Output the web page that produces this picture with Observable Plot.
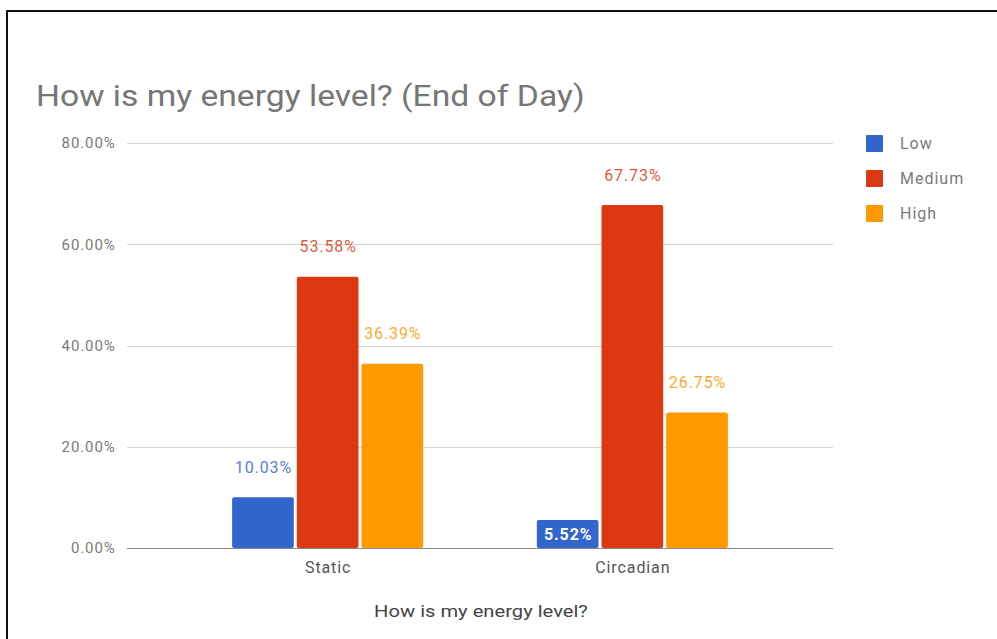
<!DOCTYPE html>
<html>
<head>
<meta charset="utf-8">
<script src="https://cdn.jsdelivr.net/npm/d3@7"></script>
<script src="https://cdn.jsdelivr.net/npm/@observablehq/plot@0.6"></script>
<style>
  body { margin: 0; background: #fff; width: 997px; height: 639px; overflow: hidden; position: relative; font-family: Roboto, "Noto Sans", sans-serif; }
  #frame { position: absolute; left: 6px; top: 10px; width: 1100px; height: 700px; border-top: 2px solid #111; border-left: 2px solid #111; }
  #title { position: absolute; left: 36px; top: 82px; font-size: 29px; line-height: 1; color: #767676; white-space: nowrap; transform: scaleX(1.16); transform-origin: left center; }
  #chart { position: absolute; left: 0; top: 120px; }
  #xtitle { position: absolute; left: 0; width: 962px; text-align: center; top: 604px; font-size: 16px; line-height: 1; color: #444; transform: scaleX(1.26); transform-origin: 481px 50%; }
  #legend { position: absolute; left: 866px; top: 135px; }
  .item { display: flex; align-items: center; height: 17px; margin-bottom: 18px; font-size: 16px; letter-spacing: 1px; color: #7a7a7a; }
  .sw { width: 17px; height: 17px; margin-right: 17px; border-radius: 1px; }
</style>
</head>
<body>
<div id="frame"></div>
<div id="title"></div>
<div id="chart"></div>
<div id="xtitle"></div>
<div id="legend"></div>
<script>
const categories = ["Static", "Circadian"];
const levels = ["Low", "Medium", "High"];
const lowValues = [10.03, 5.52];
const mediumValues = [53.58, 67.73];
const highValues = [36.39, 26.75];
const levelColors = ["#3366cc", "#dc3912", "#ff9900"];
const yTicks = [0, 20, 40, 60, 80];
const chartTitle = "How is my energy level? (End of Day)";
const xAxisTitle = "How is my energy level?";

const seriesValues = [lowValues, mediumValues, highValues];
const rows = [];
categories.forEach((c, i) => {
  levels.forEach((l, j) => rows.push({category: c, level: l, value: seriesValues[j][i]}));
});
const fmt = d => d.toFixed(2) + "%";
const insideThreshold = 8;

const marks = [
  Plot.ruleY(yTicks.filter(d => d > 0), {stroke: "#d6d6d6", insetLeft: -105, insetRight: -105, shapeRendering: "crispEdges"}),
  Plot.axisY(yTicks, {tickSize: 0, tickPadding: 117, tickFormat: fmt, fill: "#7a7a7a", label: null, fontSize: 15}),
  Plot.barY(rows, {fx: "category", x: "level", y: "value", fill: "level", rx: 2}),
  Plot.ruleY([0], {stroke: "#8a8a8a", insetLeft: -105, insetRight: -105, shapeRendering: "crispEdges"}),
  Plot.text(rows.filter(d => d.value >= insideThreshold), {fx: "category", x: "level", y: "value", text: d => fmt(d.value), fill: "level", fillOpacity: 0.85, fontSize: 16, dy: -30}),
  Plot.text(rows.filter(d => d.value < insideThreshold), {fx: "category", x: "level", y: "value", text: d => fmt(d.value), fill: "white", fontWeight: "bold", fontSize: 16, dy: 14})
];

const chart = Plot.plot({
  width: 997,
  height: 519,
  marginLeft: 127,
  marginRight: 164,
  marginTop: 23,
  marginBottom: 91,
  style: {fontFamily: "Roboto, 'Noto Sans', sans-serif", fontSize: "16px", letterSpacing: "0.9px", color: "#555", background: "transparent"},
  fx: {domain: categories, paddingInner: 0.373, paddingOuter: 0.345, round: false, label: null, axis: "bottom", tickSize: 0, tickPadding: 13},
  x: {domain: levels, paddingInner: 0.046, paddingOuter: 0, round: false, axis: null},
  y: {domain: [0, 80]},
  color: {domain: levels, range: levelColors},
  marks
});
document.getElementById("chart").appendChild(chart);
document.getElementById("title").textContent = chartTitle;
document.getElementById("xtitle").textContent = xAxisTitle;

const legend = document.getElementById("legend");
levels.forEach((l, i) => {
  const item = document.createElement("div");
  item.className = "item";
  const sw = document.createElement("div");
  sw.className = "sw";
  sw.style.background = levelColors[i];
  const label = document.createElement("span");
  label.textContent = l;
  item.appendChild(sw);
  item.appendChild(label);
  legend.appendChild(item);
});
</script>
</body>
</html>
